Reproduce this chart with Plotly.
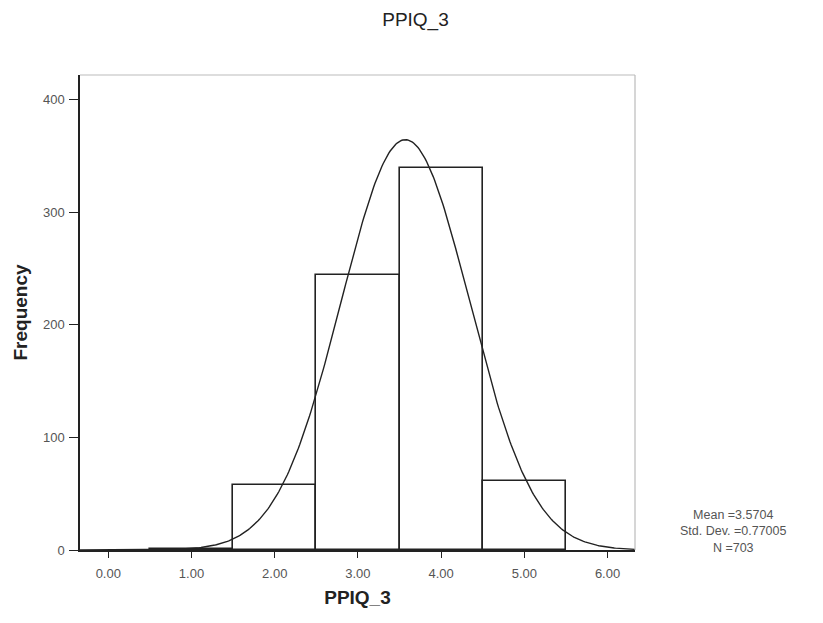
import numpy as np
import plotly.graph_objects as go

# Data
bin_centers = [1.0, 2.0, 3.0, 4.0, 5.0]
counts = [1, 58, 244, 339, 61]
x_tick_vals = [0, 1, 2, 3, 4, 5, 6]
x_tick_text = ["0.00", "1.00", "2.00", "3.00", "4.00", "5.00", "6.00"]
y_tick_vals = [0, 100, 200, 300, 400]
mean_val = 3.5704
sd_val = 0.77005
n_val = 703
bin_width = 1.0

x_range = [-0.34, 6.33]
y_range = [0, 421.6]

# fitted normal curve from the stated mean, std. dev. and N
xs = np.linspace(x_range[0], x_range[1], 400)
ys = n_val * bin_width / (sd_val * np.sqrt(2 * np.pi)) * np.exp(-0.5 * ((xs - mean_val) / sd_val) ** 2)

fig = go.Figure()
fig.add_trace(go.Bar(
    x=bin_centers, y=counts, width=bin_width,
    marker=dict(color="white", line=dict(color="#222", width=1.6)),
    showlegend=False, hoverinfo="skip"))
fig.add_trace(go.Scatter(
    x=xs, y=ys, mode="lines", line=dict(color="#222", width=1.4),
    showlegend=False, hoverinfo="skip"))

font_main = "Liberation Sans, Arial, sans-serif"

W, H = 815, 615
fig.update_layout(
    width=W, height=H,
    margin=dict(l=69, r=188, t=67, b=73),
    paper_bgcolor="white", plot_bgcolor="white",
    font=dict(family=font_main, color="#333"),
    title=dict(text="PPIQ_3", x=0.5, xref="container", xanchor="center",
               y=1 - 11 / H, yref="container", yanchor="middle",
               font=dict(size=19, color="#222", family=font_main)),
    bargap=0,
    xaxis=dict(range=x_range, tickvals=x_tick_vals, ticktext=x_tick_text,
               showgrid=False, zeroline=False, showline=True, linecolor="#222",
               linewidth=1.5, ticks="outside", ticklen=6, tickcolor="#222",
               ticklabelstandoff=5,
               tickfont=dict(size=13, color="#555"),
               title=dict(text="<b>PPIQ_3</b>", font=dict(size=19, color="#222"), standoff=10)),
    yaxis=dict(range=y_range, tickvals=y_tick_vals,
               showgrid=False, zeroline=False, showline=True, linecolor="#222",
               linewidth=1.5, ticks="outside", ticklen=9, tickcolor="#222",
               ticklabelstandoff=2,
               tickfont=dict(size=13, color="#555"),
               title=dict(text="<b>Frequency</b>", font=dict(size=19, color="#222"), standoff=10)),
)

# light frame on top and right
fig.add_shape(type="line", xref="paper", yref="paper", x0=0, x1=1, y0=1, y1=1,
              line=dict(color="#bbb", width=1.2))
fig.add_shape(type="line", xref="paper", yref="paper", x0=1, x1=1, y0=0, y1=1,
              line=dict(color="#bbb", width=1.2))

fig.add_annotation(
    xref="paper", yref="paper", x=1.176, y=0.039,
    text=f"Mean ={mean_val}<br>Std. Dev. ={sd_val}<br>N ={n_val}",
    showarrow=False, align="center", xanchor="center", yanchor="middle",
    font=dict(size=12.5, color="#555", family=font_main))

fig.write_html("out.html")
